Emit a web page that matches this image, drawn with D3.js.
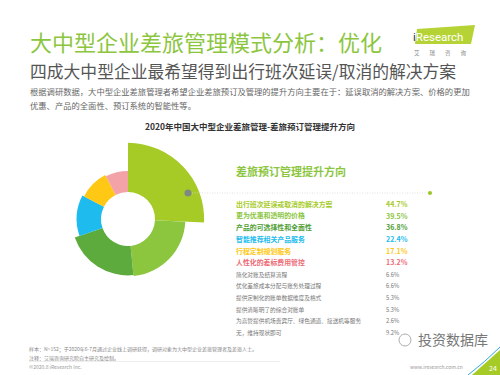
<!DOCTYPE html>
<html>
<head>
<meta charset="utf-8">
<script src="https://d3js.org/d3.v7.min.js"></script>
<style>
  body { margin: 0; background: #fff; }
  svg { display: block; font-family: "Noto Sans CJK SC", "Noto Sans", sans-serif; }
</style>
</head>
<body>
<div id="chart"></div>
<script>
var w = 500;
var h = 375;

// 数据
var categories = [
  "出行班次延误或取消的解决方案",
  "更为优惠和透明的价格",
  "产品的可选择性和全面性",
  "智能推荐相关产品服务",
  "行程定制规划服务",
  "人性化的差标费用管控",
  "简化对账及结算流程",
  "优化差旅成本分配与账务处理过程",
  "提供定制化的账单数据维度及格式",
  "提供清晰明了的综合对账单",
  "为高管提供机场贵宾厅、绿色通道、接送机等服务",
  "无，维持现状即可"
];
var values = [44.7, 39.5, 36.8, 22.4, 17.1, 13.2, 6.6, 6.6, 5.3, 5.3, 2.6, 9.2];
var topCount = 6;
var sliceColors = ["#a6cb27", "#8cc63f", "#5cab3c", "#1ebcee", "#ffc814", "#f3a2a7"];
var labelColors = ["#a6cb27", "#8cc63f", "#4f9e35", "#1ebcee", "#ffc814", "#ee6b76"];

var svg = d3.select("#chart")
  .append("svg")
  .attr("width", w)
  .attr("height", h)
  .style("background", "#FFFFFF");

// 标题
svg.append("text")
  .attr("x", 30).attr("y", 51)
  .attr("fill", "#8cc63f")
  .style("font-size", "22px")
  .text("大中型企业差旅管理模式分析：优化");

svg.append("text")
  .attr("x", 30).attr("y", 78)
  .attr("fill", "#555")
  .style("font-size", "16.8px")
  .text("四成大中型企业最希望得到出行班次延误/取消的解决方案");

svg.append("text")
  .attr("x", 30).attr("y", 95)
  .attr("fill", "#666")
  .style("font-size", "8.3px")
  .text("根据调研数据，大中型企业差旅管理者希望企业差旅预订及管理的提升方向主要在于：延误取消的解决方案、价格的更加");
svg.append("text")
  .attr("x", 30).attr("y", 109)
  .attr("fill", "#666")
  .style("font-size", "8.3px")
  .text("优惠、产品的全面性、预订系统的智能性等。");

// logo
svg.append("path")
  .attr("d", "M417,29 L475,25 L471,44 L415,44 Z")
  .attr("fill", "#b5d335");
svg.append("text")
  .attr("x", 413).attr("y", 41)
  .attr("fill", "#fff")
  .style("font-size", "11.5px")
  .style("font-family", "Roboto, sans-serif")
  .html('<tspan fill="#333">i</tspan>Research');
svg.append("text")
  .attr("x", 414).attr("y", 55)
  .attr("fill", "#888")
  .style("font-size", "5.5px")
  .attr("letter-spacing", "10px")
  .text("艾瑞咨询");

// 图表标题
svg.append("text")
  .attr("x", 250).attr("y", 130)
  .attr("text-anchor", "middle")
  .attr("fill", "#333")
  .attr("font-weight", "bold")
  .style("font-size", "8.5px")
  .text("2020年中国大中型企业差旅管理-差旅预订管理提升方向");

// 环形图
var cx = 128, cy = 219;
var rScale = d3.scaleLinear().domain([10, 40]).range([47, 57.5]);
var pie = d3.pie().sort(null).value(function(d) { return d; });
var arcs = pie(values.slice(0, topCount));
var arc = d3.arc()
  .innerRadius(27)
  .outerRadius(function(d) { return d.index === 0 ? rScale(d.data) + 17 : rScale(d.data); });

var g = svg.append("g").attr("transform", "translate(" + cx + "," + cy + ")");
g.selectAll("path")
  .data(arcs)
  .enter()
  .append("path")
  .attr("d", arc)
  .attr("fill", function(d, i) { return sliceColors[i]; });

// 引导线
svg.append("line")
  .attr("x1", 192).attr("y1", 193)
  .attr("x2", 430).attr("y2", 193)
  .attr("stroke", "#d4d4d4")
  .attr("stroke-width", 0.7)
  .attr("stroke-dasharray", "1,1.5");
svg.append("circle").attr("cx", 188).attr("cy", 193).attr("r", 3.5).attr("fill", "#7d8a84");
svg.append("circle").attr("cx", 430).attr("cy", 193).attr("r", 2).attr("fill", "#9bc62a");

svg.append("text")
  .attr("x", 236).attr("y", 176)
  .attr("fill", "#8cc63f")
  .attr("font-weight", "bold")
  .style("font-size", "11px")
  .text("差旅预订管理提升方向");

// 列表
var y = d3.scaleBand()
  .domain(categories)
  .range([198.5, 339]);

var rows = svg.selectAll(".row")
  .data(categories)
  .enter()
  .append("g")
  .attr("class", "row")
  .attr("transform", function(d) { return "translate(0," + (y(d) + y.bandwidth() / 2) + ")"; });

rows.append("text")
  .attr("x", 236)
  .attr("dy", "0.35em")
  .attr("fill", function(d, i) { return i < topCount ? labelColors[i] : "#777"; })
  .attr("font-weight", function(d, i) { return i < topCount ? "bold" : "normal"; })
  .style("font-size", function(d, i) { return i < topCount ? "6.9px" : "5.7px"; })
  .text(function(d) { return d; });

rows.append("text")
  .attr("x", 386)
  .attr("dy", "0.35em")
  .attr("fill", function(d, i) { return i < topCount ? labelColors[i] : "#777"; })
  .attr("font-weight", function(d, i) { return i < topCount ? "bold" : "normal"; })
  .style("font-size", function(d, i) { return i < topCount ? "7px" : "5.7px"; })
  .text(function(d, i) { return values[i].toFixed(1) + "%"; });

// 脚注
svg.append("text")
  .attr("x", 29).attr("y", 351)
  .attr("fill", "#888")
  .style("font-size", "5px")
  .text("样本：N=152；于2020年6-7月通过企业线上调研获得，调研对象为大中型企业差旅管理者及差旅人士。");
svg.append("text")
  .attr("x", 29).attr("y", 359.5)
  .attr("fill", "#888")
  .style("font-size", "5px")
  .text("注释：艾瑞咨询研究院自主研究及绘制。");
svg.append("line")
  .attr("x1", 29).attr("y1", 361.5).attr("x2", 280).attr("y2", 361.5)
  .attr("stroke", "#ddd").attr("stroke-width", 0.5);
svg.append("text")
  .attr("x", 29).attr("y", 369)
  .attr("fill", "#999")
  .style("font-size", "5px")
  .text("©2020.8 iResearch Inc.");
svg.append("text")
  .attr("x", 410).attr("y", 369)
  .attr("fill", "#999")
  .style("font-size", "5px")
  .text("www.iresearch.com.cn");

// 水印
svg.append("circle").attr("cx", 405).attr("cy", 340).attr("r", 6)
  .attr("fill", "none").attr("stroke", "#999").attr("stroke-width", 0.8);
svg.append("text")
  .attr("x", 418).attr("y", 345)
  .attr("fill", "#777")
  .style("font-size", "14px")
  .text("投资数据库");

// 页码
svg.append("path")
  .attr("d", "M500,350 L500,375 L472,375 Z")
  .attr("fill", "#a6cb27");
svg.append("path")
  .attr("d", "M468,375 Q485,362 500,347")
  .attr("fill", "none").attr("stroke", "#2fa9e0").attr("stroke-width", 1);
svg.append("text")
  .attr("x", 493).attr("y", 371)
  .attr("text-anchor", "middle")
  .attr("fill", "#fff")
  .style("font-size", "7px")
  .text("24");
</script>
</body>
</html>
